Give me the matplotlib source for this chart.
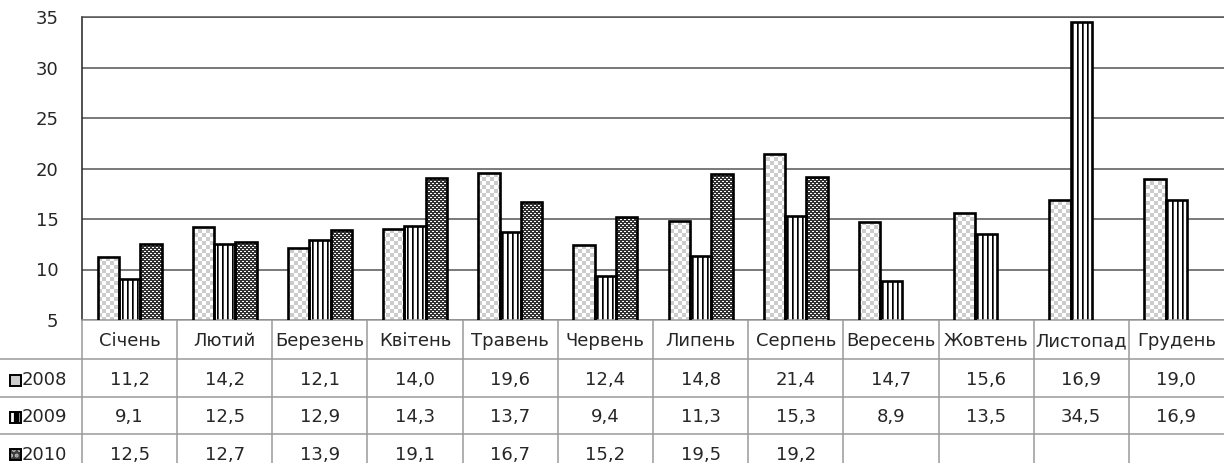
import numpy as np
import matplotlib.pyplot as plt
from matplotlib.path import Path
from matplotlib.patches import PathPatch, Rectangle

plt.rcParams['font.family'] = ['DejaVu Sans']
plt.rcParams['hatch.linewidth'] = 2.0

months = ["Січень", "Лютий", "Березень", "Квітень", "Травень", "Червень",
          "Липень", "Серпень", "Вересень", "Жовтень", "Листопад", "Грудень"]
years = ["2008", "2009", "2010"]
v2008 = [11.2, 14.2, 12.1, 14.0, 19.6, 12.4, 14.8, 21.4, 14.7, 15.6, 16.9, 19.0]
v2009 = [9.1, 12.5, 12.9, 14.3, 13.7, 9.4, 11.3, 15.3, 8.9, 13.5, 34.5, 16.9]
v2010 = [12.5, 12.7, 13.9, 19.1, 16.7, 15.2, 19.5, 19.2, None, None, None, None]

# pixel tiles for the bar fills (0 = black, 1 = white)
checker = np.ones((8, 8))
checker[:4, :4] = 0.8
checker[4:, 4:] = 0.8
stripes = np.array([[0.0, 0.3, 1, 1, 1]])
dots = np.full((4, 4), 0.2)
dots[0, :2] = 1
dots[2, 2:] = 1
tiles = [checker, stripes, dots]

# small keys in the table row headers: face colour, hatch colour, hatch
keys = [('#cdcdcd', '#cdcdcd', None), ('black', 'white', '||'), ('#3a3a3a', '#bbbbbb', '...')]

W, H = 1224, 463
fig = plt.figure(figsize=(W / 100, H / 100), dpi=100)
ax_w, ax_h = 1142, 303
ax = fig.add_axes([82 / W, 143 / H, ax_w / W, ax_h / H])

txt = '#262626'
grid_c = '#555555'
tab_c = '#9a9a9a'


def pattern_fill(a, path, tile, w_px, h_px):
    # tiles the pattern over the whole axes, clipped to the given path
    reps = (h_px // tile.shape[0] + 1, w_px // tile.shape[1] + 1)
    img = np.tile(tile, reps)[:h_px, :w_px]
    x0, x1 = a.get_xlim()
    y0, y1 = a.get_ylim()
    im = a.imshow(img, cmap='gray', vmin=0, vmax=1, extent=(x0, x1, y0, y1),
                  aspect='auto', interpolation='nearest', zorder=2)
    im.set_clip_path(PathPatch(path, transform=a.transData))
    a.set_xlim(x0, x1)
    a.set_ylim(y0, y1)


ax.set_xlim(-0.5, 11.5)
ax.set_ylim(5, 35)
x = np.arange(len(months))
bw = 0.224
for k, vals in enumerate([v2008, v2009, v2010]):
    xs = [xi + (k - 1) * bw for xi, v in zip(x, vals) if v is not None]
    hs = [v for v in vals if v is not None]
    bars = ax.bar(xs, hs, bw, fill=False, edgecolor='black', linewidth=1.9, zorder=3)
    path = Path.make_compound_path(*[b.get_path().transformed(b.get_patch_transform()) for b in bars])
    pattern_fill(ax, path, tiles[k], ax_w, ax_h)

ax.set_yticks(range(5, 36, 5))
ax.set_xticks([])
ax.yaxis.grid(True, color=grid_c, linewidth=1.1)
ax.set_axisbelow(True)
ax.tick_params(axis='y', length=0, pad=17, labelsize=13, labelcolor=txt)
ax.spines['right'].set_visible(False)
ax.spines['top'].set_color(grid_c)
ax.spines['top'].set_linewidth(1.1)
ax.spines['bottom'].set_color(tab_c)
ax.spines['bottom'].set_linewidth(1.1)
ax.spines['left'].set_color('#222222')
ax.spines['left'].set_linewidth(1.1)

# data table under the plot
colw = ax_w / 12
tab_h = 143
tax = fig.add_axes([0, 0, 1, tab_h / H])
xmin = -0.5 - 82 / colw
tax.set_xlim(xmin, 11.5)
tax.set_ylim(tab_h, 0)
tax.axis('off')
rows = [0, 39, 77, 114, 151]

for k in range(12):
    tax.plot([k - 0.5, k - 0.5], [0, tab_h], color=tab_c, linewidth=1.1)
for yb in rows[1:4]:
    tax.plot([xmin, 11.5], [yb, yb], color=tab_c, linewidth=1.1)

for i, m in enumerate(months):
    tax.text(i, (rows[0] + rows[1]) / 2 + 2, m, ha='center', va='center',
             fontsize=13, color=txt)

for r, (yr, vals) in enumerate(zip(years, [v2008, v2009, v2010])):
    yc = (rows[r + 1] + rows[r + 2]) / 2 + 2
    for i, v in enumerate(vals):
        if v is not None:
            tax.text(i, yc, f"{v:.1f}".replace('.', ','), ha='center', va='center',
                     fontsize=13, color=txt)
    # legend key in the row header
    mx = xmin + 10 / colw
    face, hc, hatch = keys[r]
    tax.add_patch(Rectangle((mx, yc - 5.5), 11 / colw, 11, facecolor=face,
                            edgecolor=hc, hatch=hatch, linewidth=0, zorder=3))
    tax.add_patch(Rectangle((mx, yc - 5.5), 11 / colw, 11, fill=False,
                            edgecolor='black', linewidth=1.4, zorder=4))
    tax.text(xmin + 22 / colw, yc, yr, ha='left', va='center', fontsize=13, color=txt)

fig.savefig('out.png', dpi=100)
